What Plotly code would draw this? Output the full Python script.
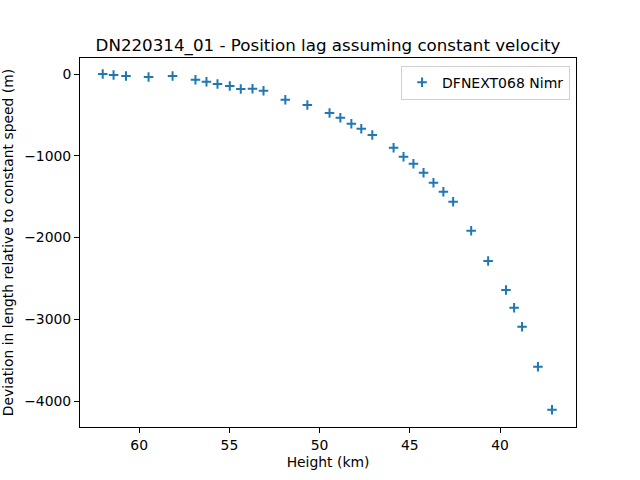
import plotly.graph_objects as go

height_km = [62.02, 61.42, 60.73, 59.48, 58.15, 56.88, 56.27, 55.66, 54.98, 54.37,
             53.72, 53.11, 51.90, 50.68, 49.45, 48.85, 48.24, 47.69, 47.08, 45.90,
             45.35, 44.80, 44.24, 43.69, 43.14, 42.60, 41.60, 40.66, 39.67, 39.22,
             38.78, 37.90, 37.12]
deviation_m = [0, -12, -24, -37, -24, -70, -94, -122, -147, -183,
               -180, -204, -314, -379, -477, -535, -608, -669, -746, -902,
               -1012, -1097, -1207, -1330, -1440, -1562, -1917, -2287, -2642, -2859,
               -3091, -3580, -4106]
x_ticks = [60, 55, 50, 45, 40]
y_ticks = [0, -1000, -2000, -3000, -4000]

font = "DejaVu Sans"
fig = go.Figure()
fig.add_trace(go.Scatter(
    x=height_km, y=deviation_m, mode="markers", name="DFNEXT068 Nimr",
    marker=dict(symbol="cross-thin", size=6.8, color="#1f77b4",
                line=dict(width=2, color="#1f77b4")),
))
fig.update_layout(
    template="none",
    width=640, height=480,
    margin=dict(l=80, r=64, t=57.6, b=52.8, autoexpand=False),
    paper_bgcolor="white", plot_bgcolor="white",
    font=dict(family=font, size=13.9, color="black"),
    title=dict(text="DN220314_01 - Position lag assuming constant velocity",
               x=0.5, xref="paper", xanchor="center", y=1, yref="paper",
               yanchor="bottom", pad=dict(b=7),
               font=dict(family=font, size=16.7, color="black")),
    showlegend=True,
    legend=dict(x=0.988, y=0.979, xanchor="right", yanchor="top",
                bordercolor="#d0d0d0", borderwidth=1,
                bgcolor="rgba(255,255,255,0.8)",
                font=dict(family=font, size=14, color="black")),
    xaxis=dict(range=[63.28, 35.79], tickvals=x_ticks, showline=True, mirror=True,
               automargin=False,
               linecolor="black", linewidth=1, ticks="outside", ticklen=5,
               tickwidth=1, tickcolor="black", showgrid=False, zeroline=False,
               tickfont=dict(family=font, size=13.9),
               title=dict(text="Height (km)", standoff=5,
                          font=dict(family=font, size=13.9))),
    yaxis=dict(range=[-4318, 196], tickvals=y_ticks, showline=True, mirror=True,
               automargin=False,
               linecolor="black", linewidth=1, ticks="outside", ticklen=5,
               tickwidth=1, tickcolor="black", showgrid=False, zeroline=False,
               tickfont=dict(family=font, size=13.9),
               title=dict(text="Deviation in length relative to constant speed (m)",
                          standoff=8, font=dict(family=font, size=13.9))),
)
fig.write_html("out.html")
